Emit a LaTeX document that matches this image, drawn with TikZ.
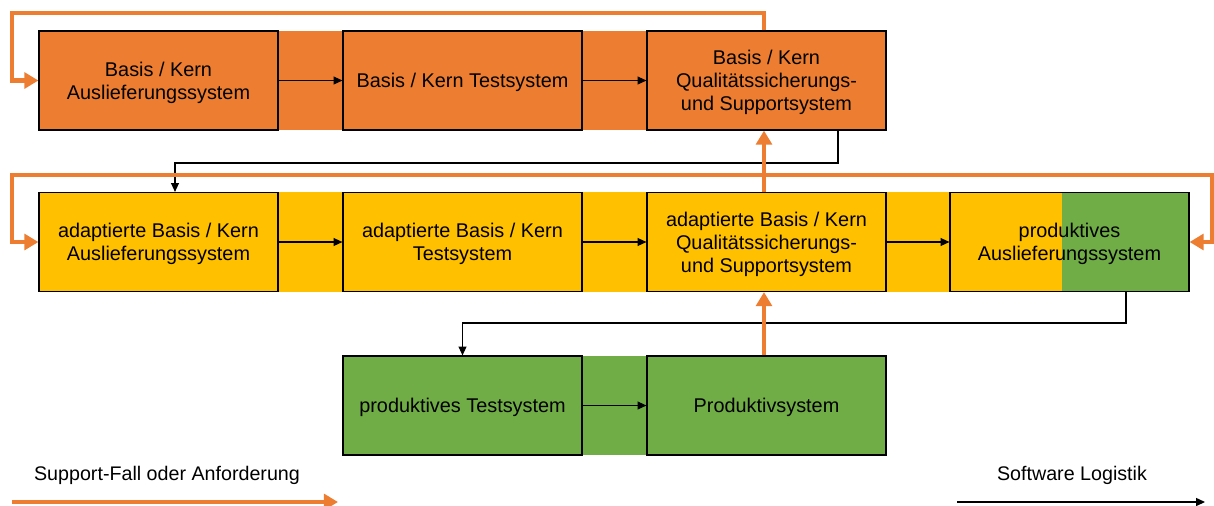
\documentclass[tikz,border=0pt]{standalone}
\usepackage{fontspec}
\setmainfont{Liberation Sans}
\usepackage{tikz}
\usetikzlibrary{arrows.meta,calc}
\definecolor{korange}{HTML}{ED7D31}
\definecolor{kyellow}{HTML}{FFC000}
\definecolor{kgreen}{HTML}{70AD47}
\tikzset{
  sysbox/.style={draw=black, line width=0.7pt, minimum width=4.78cm, minimum height=1.98cm,
    align=center, inner sep=0pt, text depth=0pt, font=\fontsize{11.3}{13}\selectfont},
  logline/.style={-{Triangle[width=4.5pt,length=5pt]}, line width=0.6pt},
  supline/.style={-{Triangle[width=9pt,length=8pt]}, draw=korange, line width=2.3pt},
  legtext/.style={text depth=0pt, font=\fontsize{11.2}{13}\selectfont}
}
\newcommand{\sysnode}[4] {\node at (#1) (#2) [sysbox, fill=#3] {#4};}
\newcommand{\logedge}[2] {\draw [logline] (#1) -- (#2);}
\newcommand{\supedge}[2] {\draw [supline] (#1) -- (#2);}

\begin{document}
\begin{tikzpicture}[x={(0.02cm,0)}, y={(0,-0.02cm)}]
\useasboundingbox (0,0) rectangle (1214,505);

% bands behind the boxes
\fill [korange] (39,31) rectangle (886,130);
\fill [kyellow] (39,192) rectangle (1189,292);
\fill [kgreen] (343,356) rectangle (886,455);

\sysnode {158.5,80.5}{bak}{korange}{Basis / Kern\\Auslieferungssystem};
\sysnode {462.5,80.5}{bkt}{korange}{Basis / Kern Testsystem};
\sysnode {766.5,80.5}{bkq}{korange}{Basis / Kern\\Qualitätssicherungs-\\und Supportsystem};

\sysnode {158.5,242}{abk}{kyellow}{adaptierte Basis / Kern\\Auslieferungssystem};
\sysnode {462.5,242}{abt}{kyellow}{adaptierte Basis / Kern\\Testsystem};
\sysnode {766.5,242}{abq}{kyellow}{adaptierte Basis / Kern\\Qualitätssicherungs-\\und Supportsystem};
\node at (1069.5,242) (pas) [sysbox, fill=kyellow,
  path picture={\fill [kgreen] ($(path picture bounding box.north west)!0.47!(path picture bounding box.north east)$) rectangle (path picture bounding box.south east);}]
  {produktives\\Auslieferungssystem};

\sysnode {462.5,405.5}{pts}{kgreen}{produktives Testsystem};
\sysnode {766.5,405.5}{prd}{kgreen}{Produktivsystem};

\coordinate (k1) at (838,163);
\coordinate (k2) at (175,163);
\coordinate (k3) at (1126,323);
\coordinate (s1) at (12,13);
\coordinate (s2) at (764,175);
\coordinate (s3) at (12,175);
\coordinate (s4) at (1212,175);

% software logistik
\logedge{bak}{bkt};
\logedge{bkt}{bkq};
\logedge{abk}{abt};
\logedge{abt}{abq};
\logedge{abq}{pas};
\logedge{pts}{prd};
\draw [logline] (bkq.south -| k1) -- (k1) -- (k2) -- (k2 |- abk.north);
\draw [logline] (pas.south -| k3) -- (k3) -| (pts.north);

% support
\draw [supline] (bkq.north -| s2) |- (s1) |- (bak.west);
\supedge{abq.north -| s2}{bkq.south -| s2};
\draw [supline] (s2) -- (s3) |- (abk.west);
\draw [supline] (s2) -- (s4) |- (pas.east);
\supedge{prd.north -| s2}{abq.south -| s2};

% legend
\node at (167,473) (lsup) [legtext] {Support-Fall oder Anforderung};
\node at (1072,473) (llog) [legtext] {Software Logistik};
\coordinate (l1) at (12,502);
\coordinate (l2) at (338,502);
\coordinate (l3) at (957,502);
\coordinate (l4) at (1205,502);
\supedge{l1}{l2};
\logedge{l3}{l4};

\end{tikzpicture}
\end{document}
